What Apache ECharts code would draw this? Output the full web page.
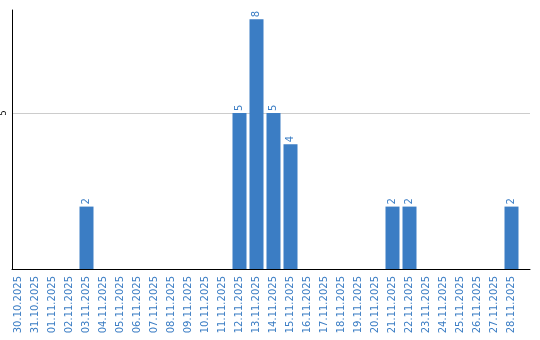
<!DOCTYPE html>
<html><head><meta charset="utf-8">
<script src="https://cdn.jsdelivr.net/npm/echarts@6/dist/echarts.min.js"></script>
<style>html,body{margin:0;padding:0;background:#fff}#c{width:540px;height:340px}</style>
</head><body><div id="c"></div>
<script>
const categories = ['30.10.2025','31.10.2025','01.11.2025','02.11.2025','03.11.2025','04.11.2025','05.11.2025','06.11.2025','07.11.2025','08.11.2025','09.11.2025','10.11.2025','11.11.2025','12.11.2025','13.11.2025','14.11.2025','15.11.2025','16.11.2025','17.11.2025','18.11.2025','19.11.2025','20.11.2025','21.11.2025','22.11.2025','23.11.2025','24.11.2025','25.11.2025','26.11.2025','27.11.2025','28.11.2025'];
const values = [0,0,0,0,2,0,0,0,0,0,0,0,0,5,8,5,4,0,0,0,0,0,2,2,0,0,0,0,0,2];
const yTicks = [5];

const blue = '#3b7dc4';
const chart = echarts.init(document.getElementById('c'));
chart.setOption({
  animation: false,
  grid: [
    {left: 10, right: 20, top: 10, bottom: 71},
    {left: 10, right: 10, top: 10, bottom: 71}
  ],
  xAxis: [
    {type: 'category', gridIndex: 0, data: categories,
     axisLine: {show: false}, axisTick: {show: false},
     axisLabel: {rotate: 90, color: blue, fontFamily: 'DejaVu Sans', fontSize: 10, margin: 7, interval: 0}},
    {type: 'value', gridIndex: 1, min: 0, max: 1,
     axisLine: {show: true, lineStyle: {color: '#000', width: 1}},
     axisTick: {show: false}, axisLabel: {show: false}, splitLine: {show: false}}
  ],
  yAxis: [
    {type: 'value', gridIndex: 0, min: 0, max: 8.3, show: false},
    {type: 'value', gridIndex: 1, min: 0, max: 8.3, interval: 5,
     axisLine: {show: true, lineStyle: {color: '#000', width: 1}},
     axisTick: {show: false},
     axisLabel: {rotate: 90, color: '#000', fontFamily: 'DejaVu Sans', fontSize: 8, margin: 4,
       formatter: v => yTicks.includes(v) ? String(v) : ''},
     splitLine: {show: true, lineStyle: {color: ['#cccccc', '#cccccc', 'rgba(0,0,0,0)'], width: 1}}}
  ],
  series: [{
    type: 'bar', xAxisIndex: 0, yAxisIndex: 0,
    data: values.map(v => v === 0 ? null : v),
    barWidth: 14,
    itemStyle: {color: blue},
    label: {show: true, position: 'top', rotate: 90, align: 'left', verticalAlign: 'middle',
      distance: 2, color: blue, fontFamily: 'DejaVu Sans', fontSize: 10}
  }]
});
</script></body></html>
